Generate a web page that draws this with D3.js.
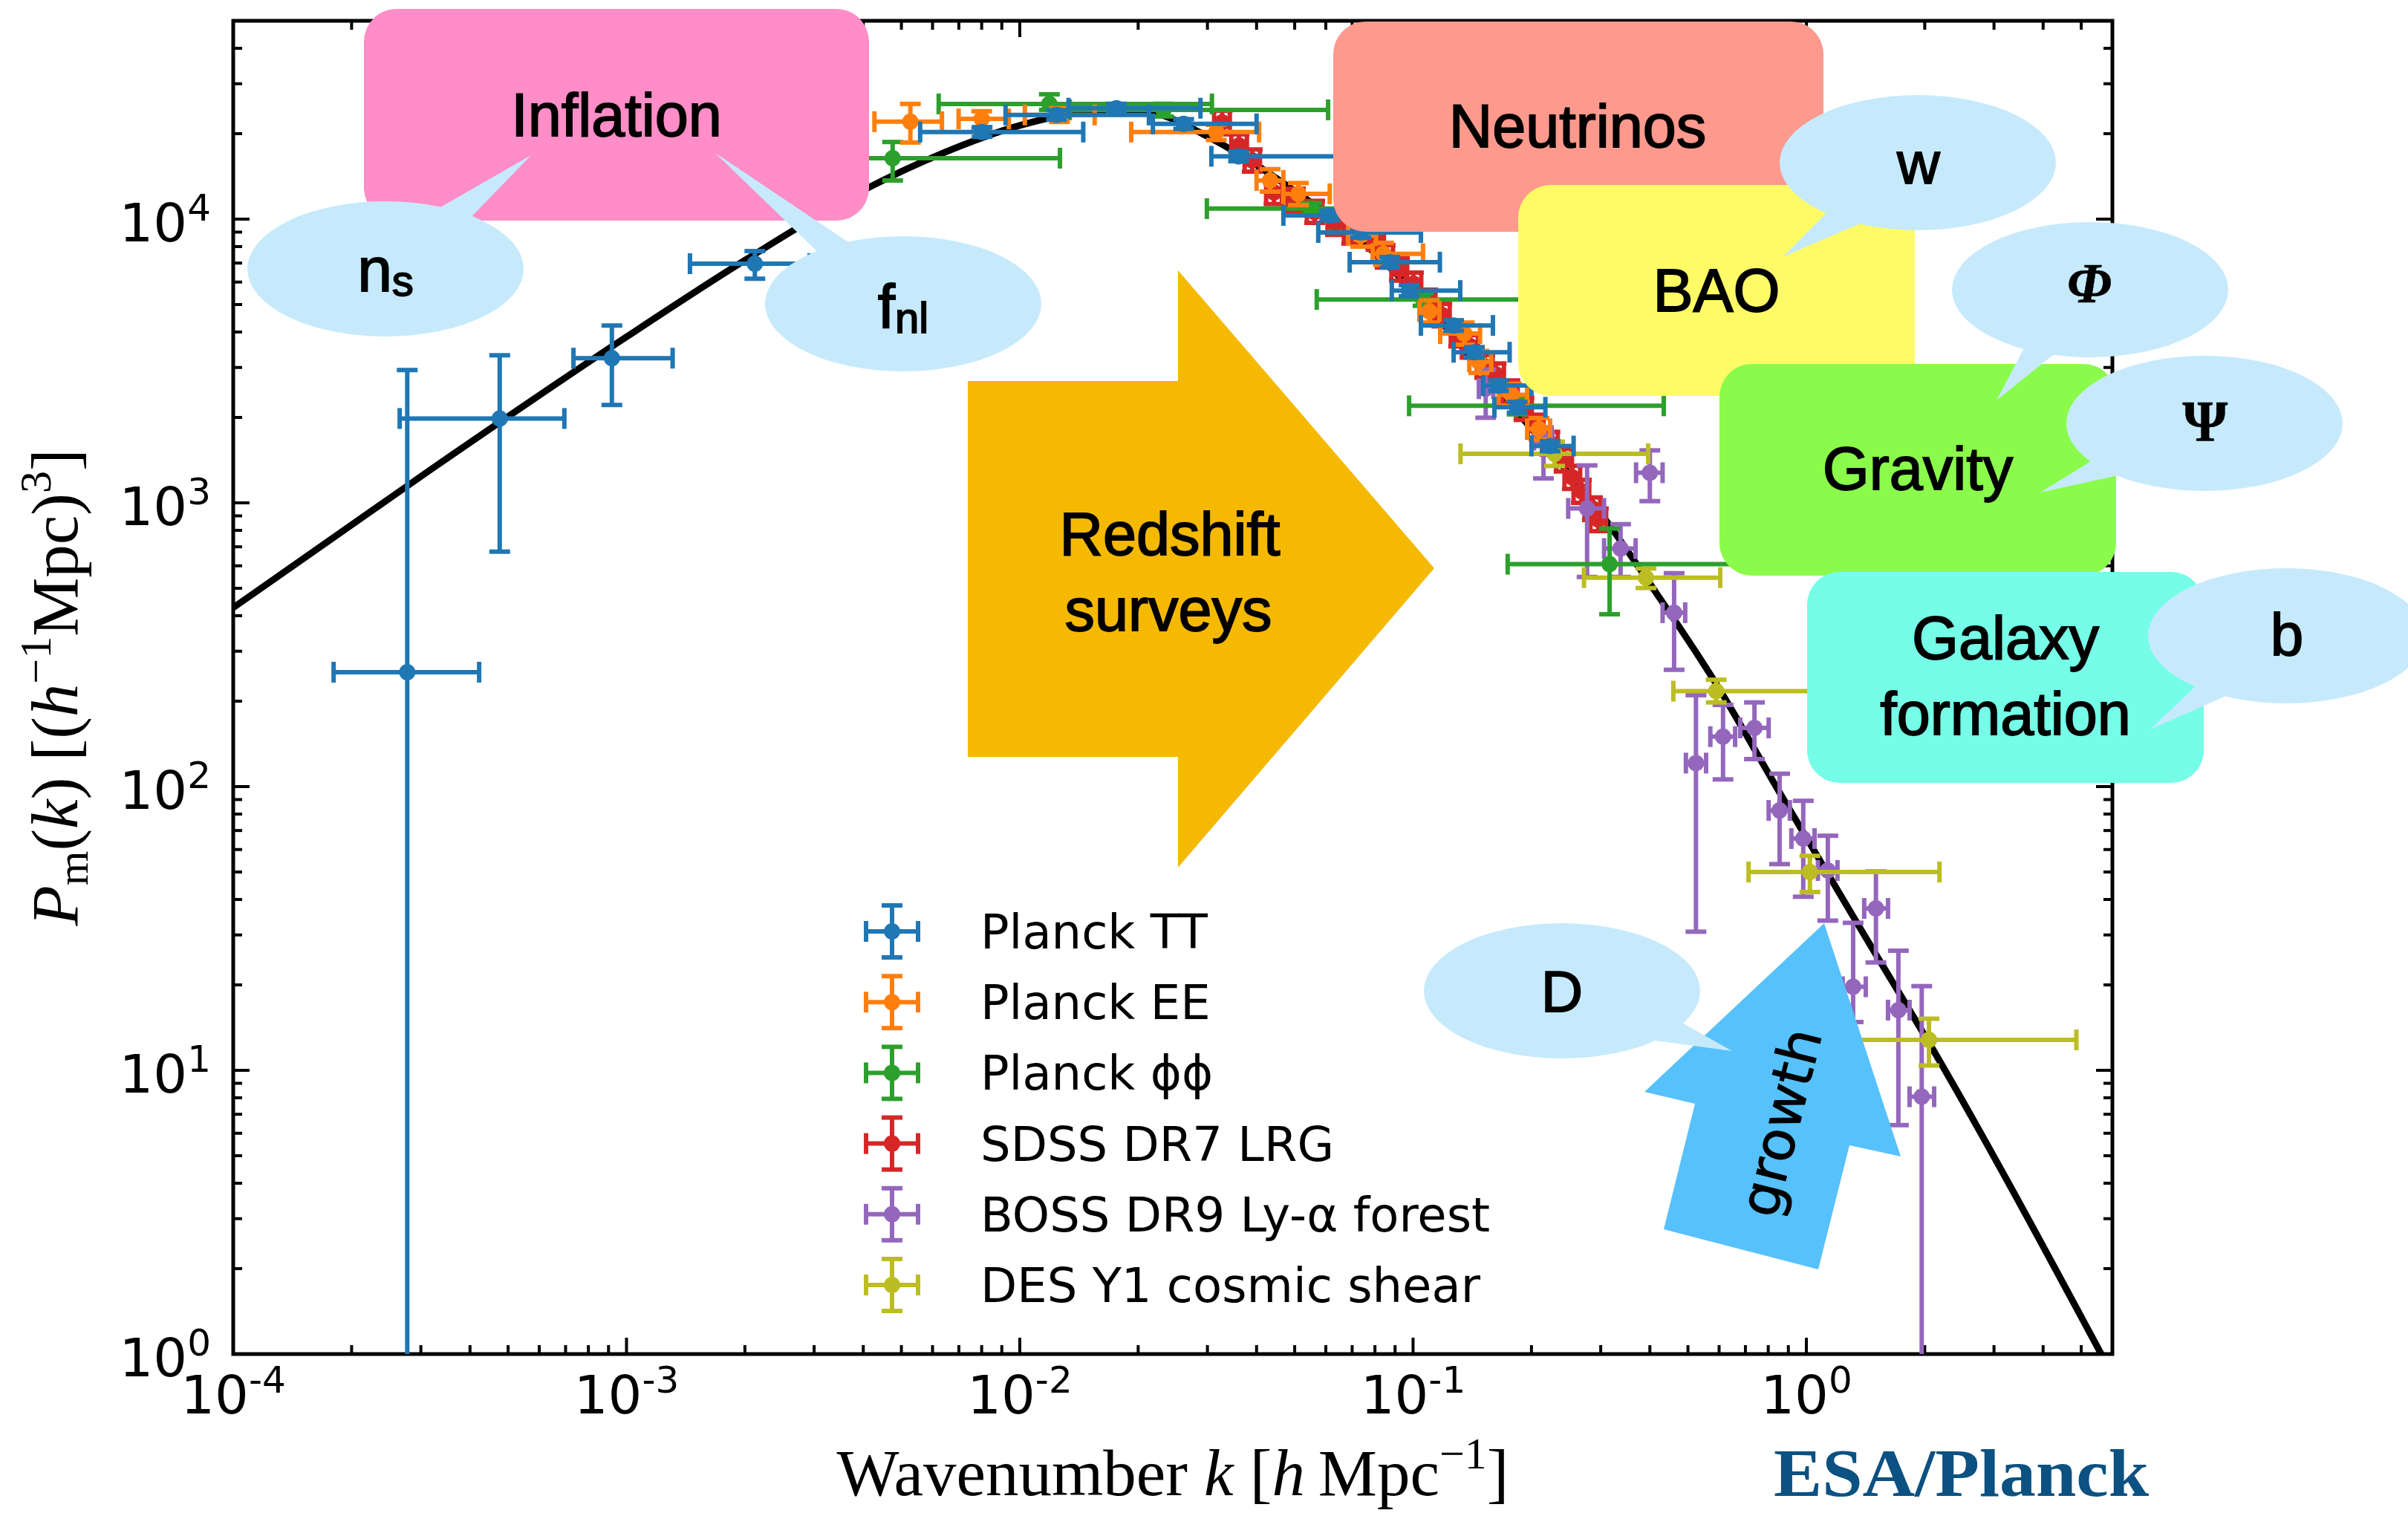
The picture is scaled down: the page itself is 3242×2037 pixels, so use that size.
<!DOCTYPE html>
<html lang="en">
<head>
<meta charset="UTF-8">
<title>Matter power spectrum</title>
<script src="https://d3js.org/d3.v7.min.js"></script>
<style>
  body { margin: 0; background: #fff; }
  svg { display: block; background: #fff; }
  .tick-label { font-family: 'DejaVu Sans', sans-serif; font-size: 72px; fill: #000; }
  .legend-text { font-family: 'DejaVu Sans', sans-serif; font-size: 64px; fill: #000; }
  .box-label { font-family: 'Liberation Sans', Arial, sans-serif; font-size: 81px; fill: #000;
               stroke: #000; stroke-width: 1.8px; text-anchor: middle; }
  .axis-title { font-family: 'Liberation Serif', 'Times New Roman', serif; font-size: 89px; fill: #000; }
</style>
</head>
<body>
<svg id="chart" width="3242" height="2037"></svg>
<script>
// theory curve (linear matter power spectrum)
var theoryK = [1e-4, 3.16e-4, 1e-3, 2.0e-3, 3.98e-3, 6.31e-3, 0.01, 0.0141, 0.0178, 0.0224, 0.0292, 0.039, 0.0491,
               0.0726, 0.107, 0.1445, 0.1914, 0.305, 0.412, 0.581, 0.855, 1.368, 2.094, 5.62];
var theoryP = [427, 1303, 3846, 7161, 12590, 16980, 21380, 23710, 24270, 23440, 19950, 15850, 12790,
               8551, 5058, 3097, 1959, 891, 489, 238, 95.3, 31.8, 11.9, 1.0];

// rows: [k, P, kLo, kHi, PLo, PHi]
var planckTT = [
  [2.77e-4, 253, 1.80e-4, 4.22e-4, 0.01, 2938],
  [4.76e-4, 1983, 2.65e-4, 6.95e-4, 673, 3312],
  [9.18e-4, 3236, 7.33e-4, 1.31e-3, 2213, 4217],
  [2.12e-3, 6966, 1.45e-3, 2.92e-3, 6166, 7715],
  [8.02e-3, 20270, 5.58e-3, 0.0145, 19500, 21100],
  [0.0124, 23280, 9.2e-3, 0.0213, 22400, 24200],
  [0.0176, 24600, 0.0133, 0.0288, 23700, 25500],
  [0.0261, 21660, 0.0218, 0.0400, 20800, 22500],
  [0.0360, 16650, 0.0307, 0.075, 16000, 17300],
  [0.0614, 10300, 0.0468, 0.0832, 9900, 10700],
  [0.0736, 8970, 0.0574, 0.1047, 8600, 9350],
  [0.0873, 7050, 0.069, 0.117, 6750, 7350],
  [0.0977, 5600, 0.0883, 0.1318, 5350, 5850],
  [0.1268, 4220, 0.1047, 0.1596, 4040, 4400],
  [0.1432, 3395, 0.1268, 0.176, 3250, 3540],
  [0.165, 2590, 0.1507, 0.200, 2480, 2700],
  [0.184, 2173, 0.161, 0.217, 2080, 2270],
  [0.223, 1586, 0.200, 0.256, 1520, 1650]
];
var planckEE = [
  [5.27e-3, 22050, 4.27e-3, 6.34e-3, 18620, 25470],
  [8.0e-3, 22550, 6.99e-3, 9.38e-3, 20900, 24000],
  [0.01261, 23280, 0.0103, 0.0155, 22000, 24600],
  [0.0316, 20270, 0.0192, 0.0406, 19000, 21500],
  [0.0433, 13690, 0.040, 0.0468, 12500, 15000],
  [0.0511, 12280, 0.0468, 0.0614, 11200, 13400],
  [0.0736, 8750, 0.0684, 0.0805, 8000, 9550],
  [0.0841, 7550, 0.0789, 0.106, 6900, 8250],
  [0.110, 4730, 0.1038, 0.1167, 4320, 5170],
  [0.135, 3950, 0.1172, 0.148, 3610, 4320],
  [0.147, 3140, 0.139, 0.158, 2870, 3430],
  [0.178, 2405, 0.165, 0.195, 2200, 2630],
  [0.209, 1823, 0.195, 0.223, 1670, 1990]
];
var planckPhi = [
  [4.75e-3, 16400, 2.80e-3, 0.01265, 13680, 18700],
  [0.01189, 25470, 6.22e-3, 0.0308, 24270, 27540],
  [0.0232, 24270, 0.0134, 0.0608, 23000, 25500],
  [0.0552, 10890, 0.0299, 0.115, 10400, 11400],
  [0.106, 5210, 0.0569, 0.25, 4950, 5480],
  [0.184, 2198, 0.0977, 0.434, 2050, 2350],
  [0.316, 608, 0.174, 0.871, 405, 812]
];
var sdssLRG = [
  [0.0327, 21930, 0.0312, 0.0342, 19900, 24100],
  [0.0361, 18160, 0.0345, 0.0378, 16600, 19900],
  [0.0390, 16110, 0.0373, 0.0408, 14700, 17600],
  [0.0443, 12420, 0.0423, 0.0464, 11300, 13600],
  [0.0502, 11640, 0.0479, 0.0526, 10600, 12800],
  [0.0562, 10590, 0.0537, 0.0588, 9700, 11600],
  [0.0635, 9638, 0.0606, 0.0665, 8800, 10500],
  [0.0698, 9016, 0.0667, 0.0731, 8200, 9900],
  [0.0805, 8570, 0.0769, 0.0843, 7800, 9400],
  [0.0849, 7396, 0.0811, 0.0889, 6750, 8100],
  [0.0923, 6653, 0.0881, 0.0966, 6070, 7290],
  [0.1002, 5916, 0.0957, 0.1049, 5400, 6480],
  [0.1089, 5152, 0.104, 0.114, 4700, 5640],
  [0.1183, 4592, 0.113, 0.1239, 4190, 5030],
  [0.1306, 3899, 0.1247, 0.1367, 3560, 4270],
  [0.1396, 3565, 0.1333, 0.1462, 3250, 3900],
  [0.1521, 3027, 0.1453, 0.1593, 2760, 3320],
  [0.1626, 2831, 0.1553, 0.1702, 2580, 3100],
  [0.1762, 2466, 0.1683, 0.1845, 2250, 2700],
  [0.1914, 2148, 0.1828, 0.2004, 1960, 2350],
  [0.2051, 1866, 0.1959, 0.2147, 1700, 2045],
  [0.2228, 1626, 0.2128, 0.2333, 1480, 1780],
  [0.2421, 1416, 0.2312, 0.2535, 1290, 1550],
  [0.2541, 1230, 0.2427, 0.2660, 1120, 1350],
  [0.2679, 1099, 0.2559, 0.2805, 1000, 1205],
  [0.2858, 955, 0.2729, 0.2992, 870, 1045],
  [0.2958, 873, 0.2825, 0.3097, 795, 955]
];
var bossLya = [
  [0.153, 2525, 0.147, 0.160, 1995, 2951],
  [0.2146, 1663, 0.203, 0.226, 1219, 1845],
  [0.277, 956, 0.248, 0.306, 548, 1355],
  [0.337, 690, 0.306, 0.368, 548, 841],
  [0.400, 1277, 0.369, 0.431, 1014, 1531],
  [0.461, 410, 0.431, 0.492, 258, 565],
  [0.524, 121, 0.494, 0.556, 30.8, 210],
  [0.614, 150, 0.570, 0.659, 106, 194],
  [0.738, 161, 0.679, 0.802, 125, 198],
  [0.855, 82.4, 0.802, 0.908, 53.3, 111],
  [0.982, 65.6, 0.916, 1.049, 40.9, 89.1],
  [1.134, 50.6, 1.07, 1.20, 33.7, 67.1],
  [1.315, 19.7, 1.237, 1.416, 14.8, 33.1],
  [1.503, 37.2, 1.403, 1.613, 24.0, 50.2],
  [1.714, 16.3, 1.613, 1.830, 6.41, 26.4],
  [1.965, 8.07, 1.830, 2.113, 0.01, 19.8]
];
var desY1 = [
  [0.229, 1489, 0.132, 0.396, 1349, 1644],
  [0.391, 545, 0.272, 0.604, 501, 587],
  [0.590, 217, 0.459, 1.08, 198, 238],
  [1.021, 50.0, 0.713, 2.18, 42.5, 57.0],
  [2.05, 12.8, 0.95, 4.86, 10.4, 15.2]
];

var seriesNames = ["Planck TT", "Planck EE", "Planck \u03d5\u03d5", "SDSS DR7 LRG", "BOSS DR9 Ly-\u03b1 forest", "DES Y1 cosmic shear"];
var seriesColors = ["#1f77b4", "#ff7f0e", "#2ca02c", "#d62728", "#9467bd", "#bcbd22"];
var seriesData = [planckTT, planckEE, planckPhi, sdssLRG, bossLya, desY1];
var drawOrder = [3, 4, 5, 2, 1, 0];

var svg = d3.select("#chart"),
    W = +svg.attr("width"), H = +svg.attr("height"),
    margin = {top: 28, right: 398, bottom: 214, left: 314};
var x = d3.scaleLog().domain([1e-4, 6]).range([margin.left, W - margin.right]);
var y = d3.scaleLog().domain([1, 5e4]).range([H - margin.bottom, margin.top]);
var x0 = x.range()[0], x1 = x.range()[1], y0 = y.range()[0], y1 = y.range()[1];

svg.append("defs").append("clipPath").attr("id", "plotclip")
  .append("rect").attr("x", x0).attr("y", y1).attr("width", x1 - x0).attr("height", y0 - y1);

// ---- axes: spines, inward ticks on all four sides, labels
var axes = svg.append("g");
var isMajor = function(v) { return Math.abs(Math.log10(v) - Math.round(Math.log10(v))) < 1e-6; };
var xt = x.ticks(), yt = y.ticks();
xt.forEach(function(v) {
  var len = isMajor(v) ? 22 : 12, px = x(v);
  axes.append("line").attr("x1", px).attr("x2", px).attr("y1", y0).attr("y2", y0 - len).attr("stroke", "#000").attr("stroke-width", 4);
  axes.append("line").attr("x1", px).attr("x2", px).attr("y1", y1).attr("y2", y1 + len).attr("stroke", "#000").attr("stroke-width", 4);
});
yt.forEach(function(v) {
  var len = isMajor(v) ? 22 : 12, py = y(v);
  axes.append("line").attr("x1", x0).attr("x2", x0 + len).attr("y1", py).attr("y2", py).attr("stroke", "#000").attr("stroke-width", 4);
  axes.append("line").attr("x1", x1).attr("x2", x1 - len).attr("y1", py).attr("y2", py).attr("stroke", "#000").attr("stroke-width", 4);
});
axes.append("rect").attr("x", x0).attr("y", y1).attr("width", x1 - x0).attr("height", y0 - y1)
  .attr("fill", "none").attr("stroke", "#000").attr("stroke-width", 5);

function powLabel(t, v) {
  t.append("tspan").text("10");
  t.append("tspan").attr("dy", -28).attr("font-size", 50).text(String(Math.round(Math.log10(v))));
}
xt.filter(isMajor).forEach(function(v) {
  powLabel(axes.append("text").attr("class", "tick-label").attr("x", x(v)).attr("y", y0 + 80).attr("text-anchor", "middle"), v);
});
yt.filter(isMajor).forEach(function(v) {
  powLabel(axes.append("text").attr("class", "tick-label").attr("x", x0 - 30).attr("y", y(v) + 30).attr("text-anchor", "end"), v);
});

var xTitle = svg.append("text").attr("class", "axis-title").attr("x", (x0 + x1) / 2).attr("y", 2013).attr("text-anchor", "middle");
xTitle.append("tspan").text("Wavenumber ");
xTitle.append("tspan").attr("font-style", "italic").text("k");
xTitle.append("tspan").text(" [");
xTitle.append("tspan").attr("font-style", "italic").text("h");
xTitle.append("tspan").text("\u2009Mpc");
xTitle.append("tspan").attr("dy", -36).attr("font-size", 60).text("\u22121");
xTitle.append("tspan").attr("dy", 36).text("]");

var yTitle = svg.append("text").attr("class", "axis-title")
  .attr("transform", "translate(104," + ((y0 + y1) / 2) + ") rotate(-90)").attr("text-anchor", "middle");
yTitle.append("tspan").attr("font-style", "italic").text("P");
yTitle.append("tspan").attr("dy", 14).attr("font-size", 60).text("m");
yTitle.append("tspan").attr("dy", -14).text("(");
yTitle.append("tspan").attr("font-style", "italic").text("k");
yTitle.append("tspan").text(") [(");
yTitle.append("tspan").attr("font-style", "italic").text("h");
yTitle.append("tspan").attr("dy", -36).attr("font-size", 60).text("\u22121");
yTitle.append("tspan").attr("dy", 36).text("Mpc)");
yTitle.append("tspan").attr("dy", -36).attr("font-size", 60).text("3");
yTitle.append("tspan").attr("dy", 36).text("]");

// ---- theory line and data
var plot = svg.append("g").attr("clip-path", "url(#plotclip)");
var line = d3.line().x(function(d) { return x(d[0]); }).y(function(d) { return y(d[1]); }).curve(d3.curveMonotoneX);
plot.append("path").datum(d3.zip(theoryK, theoryP)).attr("d", line)
  .attr("fill", "none").attr("stroke", "#000").attr("stroke-width", 9);

var cap = 14, lw = 6;
drawOrder.forEach(function(si) {
  var color = seriesColors[si];
  var pts = plot.append("g").selectAll("g").data(seriesData[si]).join("g")
    .attr("stroke", color).attr("stroke-width", lw);
  pts.append("line").attr("x1", function(d) { return x(d[2]); }).attr("x2", function(d) { return x(d[3]); })
    .attr("y1", function(d) { return y(d[1]); }).attr("y2", function(d) { return y(d[1]); });
  pts.append("line").attr("x1", function(d) { return x(d[0]); }).attr("x2", function(d) { return x(d[0]); })
    .attr("y1", function(d) { return y(d[4]); }).attr("y2", function(d) { return y(d[5]); });
  [2, 3].forEach(function(i) {
    pts.append("line").attr("x1", function(d) { return x(d[i]); }).attr("x2", function(d) { return x(d[i]); })
      .attr("y1", function(d) { return y(d[1]) - cap; }).attr("y2", function(d) { return y(d[1]) + cap; });
  });
  [4, 5].forEach(function(i) {
    pts.append("line").attr("y1", function(d) { return y(d[i]); }).attr("y2", function(d) { return y(d[i]); })
      .attr("x1", function(d) { return x(d[0]) - cap; }).attr("x2", function(d) { return x(d[0]) + cap; });
  });
  pts.append("circle").attr("cx", function(d) { return x(d[0]); }).attr("cy", function(d) { return y(d[1]); })
    .attr("r", 11).attr("fill", color).attr("stroke", "none");
});

// ---- legend
var legend = svg.append("g");
seriesNames.forEach(function(name, i) {
  var cy = 1254 + i * 95.2, cx = 1201, c = seriesColors[i];
  var g = legend.append("g").attr("stroke", c).attr("stroke-width", lw);
  g.append("line").attr("x1", cx - 35).attr("x2", cx + 35).attr("y1", cy).attr("y2", cy);
  g.append("line").attr("x1", cx).attr("x2", cx).attr("y1", cy - 35).attr("y2", cy + 35);
  g.append("line").attr("x1", cx - 35).attr("x2", cx - 35).attr("y1", cy - cap).attr("y2", cy + cap);
  g.append("line").attr("x1", cx + 35).attr("x2", cx + 35).attr("y1", cy - cap).attr("y2", cy + cap);
  g.append("line").attr("y1", cy - 35).attr("y2", cy - 35).attr("x1", cx - cap).attr("x2", cx + cap);
  g.append("line").attr("y1", cy + 35).attr("y2", cy + 35).attr("x1", cx - cap).attr("x2", cx + cap);
  g.append("circle").attr("cx", cx).attr("cy", cy).attr("r", 11).attr("fill", c).attr("stroke", "none");
  legend.append("text").attr("class", "legend-text").attr("x", 1320).attr("y", cy + 23).text(name);
});

// ---- annotation overlays (layout in pixels)
var bubbleFill = "#c6eafc";
var ann = svg.append("g");

function box(bx, by, bw, bh, fill) {
  ann.append("rect").attr("x", bx).attr("y", by).attr("width", bw).attr("height", bh)
    .attr("rx", 44).attr("ry", 44).attr("fill", fill);
}
function bubble(cx, cy, tip, b1, b2) {
  var pull = function(p) { return [p[0] + (cx - p[0]) * 0.15, p[1] + (cy - p[1]) * 0.15]; };
  ann.append("path").attr("d", "M" + pull(b1) + "L" + tip + "L" + pull(b2) + "Z").attr("fill", bubbleFill);
  ann.append("ellipse").attr("cx", cx).attr("cy", cy).attr("rx", 186).attr("ry", 91).attr("fill", bubbleFill);
}
function label(tx, ty, str, size) {
  var t = ann.append("text").attr("class", "box-label").attr("x", tx).attr("y", ty).text(str);
  if (size) t.style("font-size", size + "px");
  return t;
}
function subLabel(tx, ty, main, sub) {
  var t = ann.append("text").attr("class", "box-label").attr("x", tx).attr("y", ty).style("font-size", "84px");
  t.append("tspan").text(main);
  t.append("tspan").attr("dy", 6).style("font-size", "58px").text(sub);
}

box(490, 12, 680, 285, "#ff8dc7");
label(830, 183, "Inflation");
bubble(519, 362, [715, 209], [584, 277], [641, 294]);
subLabel(519, 392, "n", "s");
bubble(1216, 409, [963, 206], [1094, 340], [1148, 324]);
subLabel(1216, 442, "f", "nl");

box(1795, 29, 660, 283, "#fd998d");
label(2124, 198, "Neutrinos");
box(2044, 249, 534, 284, "#fffb66");
label(2311, 419, "BAO");
bubble(2582, 219, [2400, 346], [2452, 284], [2516, 305]);
label(2583, 247, "w", 80);

box(2315, 490, 534, 285, "#8afb4b");
label(2582, 659, "Gravity");
bubble(2814, 390, [2688, 539], [2718, 466], [2772, 480]);
label(2813, 407, "\u03a6", 76).style("font-family", "'Liberation Serif', serif")
  .style("font-style", "italic").style("font-weight", "bold").style("stroke-width", "0.5px");
bubble(2968, 570, [2747, 663], [2809, 617], [2865, 645]);
label(2969, 593, "\u03a8", 78).style("font-family", "'Liberation Serif', serif").style("font-weight", "bold")
  .style("stroke-width", "0.5px");

box(2433, 770, 534, 284, "#75fde8");
label(2700, 887, "Galaxy");
label(2700, 989, "formation");
bubble(3078, 856, [2895, 982], [2949, 922], [3008, 940]);
label(3079, 882, "b", 80);

ann.append("path").attr("fill", "#f5b902")
  .attr("d", "M1303,513L1586,513L1586,364L1931,765L1586,1168L1586,1019L1303,1019Z");
label(1575, 747, "Redshift");
label(1573, 849, "surveys");

ann.append("path").attr("fill", "#57c1fc")
  .attr("d", "M2456,1243L2559,1557L2490,1542L2448,1709L2240,1655L2282,1486L2214,1470Z");
bubble(2103, 1334, [2332, 1415], [2271, 1372], [2216, 1408]);
label(2103, 1362, "D", 78);
ann.append("text").attr("transform", "translate(2397,1511) rotate(-76)")
  .attr("text-anchor", "middle").attr("dy", "0.35em")
  .style("font-family", "'DejaVu Sans', sans-serif").style("font-size", "74px")
  .style("stroke", "#000").style("stroke-width", "1px").text("growth");

// ---- credit
svg.append("text").attr("x", 2388).attr("y", 2014)
  .attr("textLength", 505).attr("lengthAdjust", "spacingAndGlyphs")
  .style("font-family", "'Liberation Serif', serif").style("font-weight", "bold").style("font-size", "90px")
  .attr("fill", "#0b5182").text("ESA/Planck");
</script>
</body>
</html>
